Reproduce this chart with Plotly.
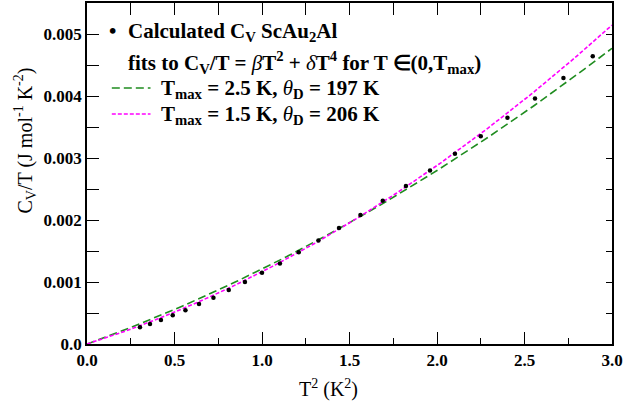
import numpy as np
import plotly.graph_objects as go

# Calculated C_V/T for ScAu2Al versus T^2
t_squared = [0.3025, 0.36, 0.4225, 0.49, 0.5625, 0.64, 0.7225, 0.81, 0.9025, 1.0,
             1.1025, 1.21, 1.3225, 1.44, 1.5625, 1.69, 1.8225, 1.96, 2.1025, 2.25,
             2.4025, 2.56, 2.7225, 2.89]
cv_over_t = [0.000269, 0.000323, 0.000387, 0.000463, 0.000544, 0.000645, 0.000747,
             0.000871, 0.00100, 0.00115, 0.00130, 0.00148, 0.00167, 0.00187, 0.00208,
             0.00231, 0.00255, 0.00280, 0.00307, 0.00335, 0.00365, 0.00396, 0.00429,
             0.00464]

# Fit parameters: C_V/T = beta*T^2 + delta*T^4, beta from the Debye temperature
fit_tmax = [2.5, 1.5]
fit_theta_d = [197, 206]
fit_delta = [1.91e-4, 2.75e-4]
fit_colors = ["#1f8c1f", "#ff00ff"]
fit_dash = ["8px,4px", "4px,2px"]

x_ticks = [0.0, 0.5, 1.0, 1.5, 2.0, 2.5, 3.0]
x_ticktext = ["0.0", "0.5", "1.0", "1.5", "2.0", "2.5", "3.0"]
y_ticks = [0.0, 0.001, 0.002, 0.003, 0.004, 0.005]
y_ticktext = ["0.0", "0.001", "0.002", "0.003", "0.004", "0.005"]

N_ATOMS = 4
R_GAS = 8.314


def debye_beta(theta):
    return 12 * np.pi ** 4 * N_ATOMS * R_GAS / (5 * theta ** 3)


W, H = 626, 408
ML, MR, MT, MB = 87, 10, 3, 64
PW, PH = W - ML - MR, H - MT - MB


def px(xp):
    return (xp - ML) / PW


def py(yp):
    return 1 - (yp - MT) / PH


FONT = "Liberation Serif, Times New Roman, serif"


def bold(t):
    return f"<b>{t}</b>"


fig = go.Figure()

xs = np.linspace(0, 3, 301)
for th, dl, col, dash in zip(fit_theta_d, fit_delta, fit_colors, fit_dash):
    b = debye_beta(th)
    fig.add_trace(go.Scatter(x=xs, y=b * xs + dl * xs ** 2, mode="lines",
                             line=dict(color=col, width=1.6, dash=dash),
                             showlegend=False, hoverinfo="skip"))

fig.add_trace(go.Scatter(x=t_squared, y=cv_over_t, mode="markers",
                         marker=dict(color="black", size=4.5),
                         showlegend=False))

axis_common = dict(showgrid=False, zeroline=False, showline=True, linecolor="black",
                   linewidth=1.6, ticks="inside", tickcolor="black", tickwidth=1.4)

fig.update_layout(
    width=W, height=H,
    margin=dict(l=ML, r=MR, t=MT, b=MB),
    paper_bgcolor="white", plot_bgcolor="white",
    font=dict(family=FONT, color="black"),
    xaxis=dict(range=[0, 3], tickvals=x_ticks, ticktext=[bold(t) for t in x_ticktext],
               ticklen=12, tickfont=dict(family=FONT, size=17), ticklabeloverflow="allow",
               minor=dict(dtick=0.25, ticklen=6, tickcolor="black", tickwidth=1.4, ticks="inside"),
               **axis_common),
    yaxis=dict(range=[0, 0.0055], tickvals=y_ticks, ticktext=[bold(t) for t in y_ticktext],
               ticklen=12, tickfont=dict(family=FONT, size=17), ticklabeloverflow="allow",
               minor=dict(dtick=0.0005, ticklen=12, tickcolor="black", tickwidth=1.4, ticks="inside"),
               **axis_common),
    xaxis2=dict(overlaying="x", side="top", range=[0, 3], dtick=0.25, tick0=0,
                showticklabels=False, ticklen=12, matches="x", **axis_common),
    yaxis2=dict(overlaying="y", side="right", range=[0, 0.0055], dtick=0.0005, tick0=0,
                showticklabels=False, ticklen=6, matches="y", **axis_common),
)
# invisible trace to activate the mirrored axes
fig.add_trace(go.Scatter(x=[0], y=[0], xaxis="x2", yaxis="y2", mode="markers",
                         marker=dict(opacity=0), showlegend=False, hoverinfo="skip"))

# Axis titles
TITLE_SIZE = 20
fig.add_annotation(x=px(330), y=py(388), xref="paper", yref="paper",
                   text="T<sup>2</sup> (K<sup>2</sup>)", showarrow=False,
                   xanchor="center", yanchor="middle",
                   font=dict(family=FONT, size=TITLE_SIZE))
fig.add_annotation(x=px(25), y=py(140), xref="paper", yref="paper",
                   text="C<sub>V</sub>/T (J mol<sup>-1</sup> K<sup>-2</sup>)", showarrow=False,
                   textangle=-90, xanchor="center", yanchor="middle",
                   font=dict(family=FONT, size=TITLE_SIZE))

# Legend block
LEG_SIZE = 21
NB = "<span style='font-weight:normal'><i>{}</i></span>"
legend_lines = [
    (126, 32, "Calculated C<sub>V</sub> ScAu<sub>2</sub>Al"),
    (126, 62, "fits to C<sub>V</sub>/T = " + NB.format("β") + "T<sup>2</sup> + "
              + NB.format("δ") + "T<sup>4</sup> for T ∈(0,T<sub>max</sub>)"),
]
for (xp, yp, txt) in legend_lines:
    fig.add_annotation(x=px(xp), y=py(yp), xref="paper", yref="paper", text=bold(txt),
                       showarrow=False, xanchor="left", yanchor="middle",
                       font=dict(family=FONT, size=LEG_SIZE))

fig.add_annotation(x=px(113), y=py(31), xref="paper", yref="paper", text=bold("•"),
                   showarrow=False, xanchor="center", yanchor="middle",
                   font=dict(family=FONT, size=LEG_SIZE))

for i, (tm, th) in enumerate(zip(fit_tmax, fit_theta_d)):
    yl = [88, 114][i]
    fig.add_shape(type="line", xref="paper", yref="paper", x0=px(112), x1=px(151),
                  y0=py(yl), y1=py(yl),
                  line=dict(color=fit_colors[i], width=1.6, dash=fit_dash[i]))
    fig.add_annotation(x=px(160), y=py(yl + 1), xref="paper", yref="paper",
                       text=bold(f"T<sub>max</sub> = {tm} K, " + NB.format("θ")
                                 + f"<sub>D</sub> = {th} K"),
                       showarrow=False, xanchor="left", yanchor="middle",
                       font=dict(family=FONT, size=LEG_SIZE))

fig.write_html("out.html")
